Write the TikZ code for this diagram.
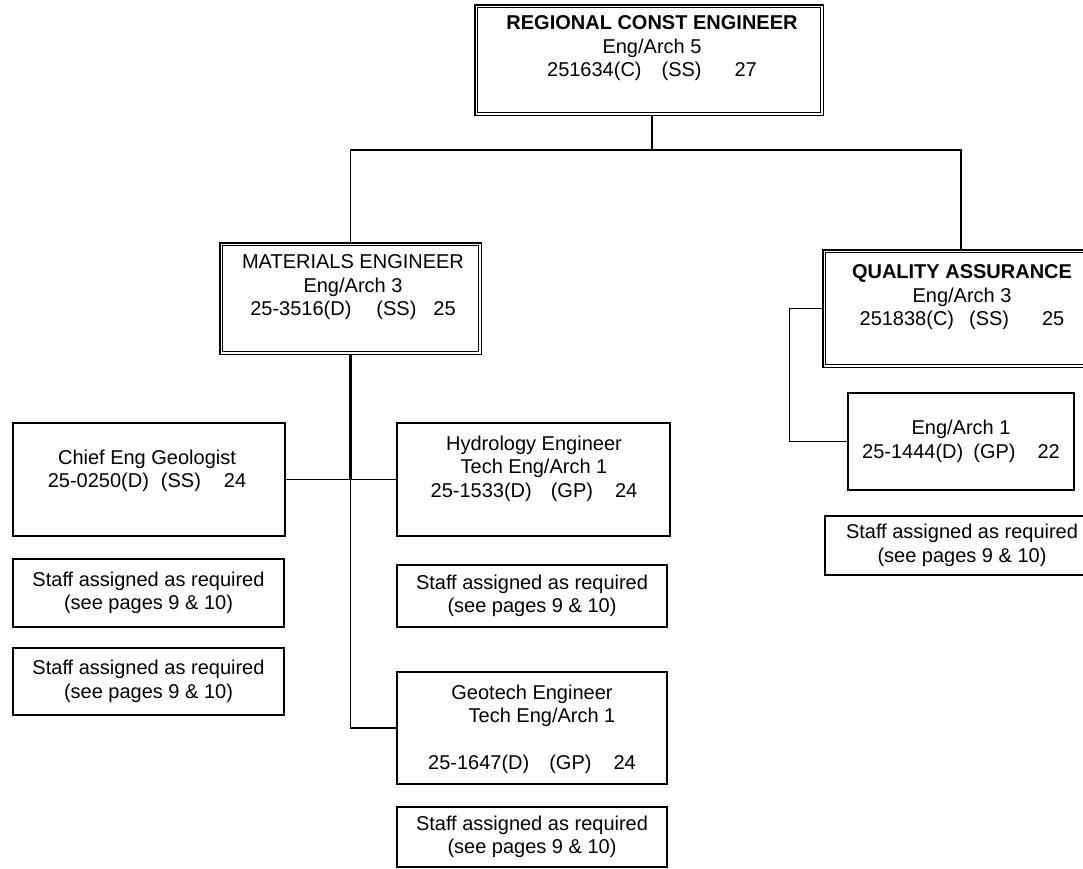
\documentclass[tikz,border=0pt]{standalone}
\usepackage{fontspec}
\setmainfont{Liberation Sans}

\begin{document}
\begin{tikzpicture}[x=1pt,y=-1pt,
    post/.style={rectangle, draw, line width=1.5pt, inner sep=0pt},
    head/.style={post, double, double distance=1.5pt, line width=1.1pt, outer sep=1.85pt},
    staff/.style={post, align=center, font=\fontsize{20}{23.5}\selectfont},
    txt/.style={align=center, inner sep=0pt, anchor=north, font=\fontsize{20}{23.5}\selectfont},
    link/.style={line width=1.4pt}]
      \useasboundingbox (0,0) rectangle (1083,868);

      \node at(649,60) [head, minimum width=345.5pt, minimum height=107.5pt] (rce) {};
      \node at(652,15.5) [txt] (rce-t) {{\bfseries REGIONAL CONST ENGINEER}\\Eng/Arch 5\\251634(C)\hspace{1em}(SS)\hspace{1.65em}27};

      \node at(350.5,298.5) [head, minimum width=258.5pt, minimum height=108.5pt] (mat) {};
      \node at(353,254.5) [txt] (mat-t) {MATERIALS ENGINEER\\Eng/Arch 3\\25-3516(D)\hspace{1.25em}(SS)\hspace{0.85em}25};

      \node at(961,308.5) [head, minimum width=273.5pt, minimum height=114.5pt] (qa) {};
      \node at(962,264.5) [txt] (qa-t) {{\bfseries QUALITY ASSURANCE}\\Eng/Arch 3\\251838(C)\hspace{0.75em}(SS)\hspace{1.65em}25};

      \node at(961,441.5) [staff, minimum width=226pt, minimum height=97pt] (ea1) {Eng/Arch 1\\25-1444(D)\hspace{0.5em}(GP)\hspace{1.1em}22};
      \node at(962,545.5) [staff, minimum width=274pt, minimum height=59pt] (qastaff) {Staff assigned as required\\(see pages 9 \& 10)};

      \node at(149,479.5) [post, minimum width=272pt, minimum height=113pt] (chief) {};
      \node at(147,449.5) [txt] (chief-t) {Chief Eng Geologist\\25-0250(D)\hspace{0.6em}(SS)\hspace{1.15em}24};
      \node at(148.5,593) [staff, minimum width=271pt, minimum height=68pt] (staffa) {Staff assigned as required\\(see pages 9 \& 10)};
      \node at(148.5,681.5) [staff, minimum width=271pt, minimum height=67pt] (staffb) {Staff assigned as required\\(see pages 9 \& 10)};

      \node at(533.5,479.5) [post, minimum width=273pt, minimum height=113pt] (hyd) {};
      \node at(534,435.5) [txt] (hyd-t) {Hydrology Engineer\\Tech Eng/Arch 1\\25-1533(D)\hspace{0.95em}(GP)\hspace{1.1em}24};
      \node at(532,596) [staff, minimum width=270pt, minimum height=62pt] (staffc) {Staff assigned as required\\(see pages 9 \& 10)};

      \node at(532,728) [post, minimum width=270pt, minimum height=112pt] (geo) {};
      \node at(532,684.5) [txt] (geo-t) {Geotech Engineer\\\hspace*{1em}Tech Eng/Arch 1\\\mbox{}\\25-1647(D)\hspace{1em}(GP)\hspace{1.1em}24};
      \node at(532,837) [staff, minimum width=270pt, minimum height=60pt] (staffd) {Staff assigned as required\\(see pages 9 \& 10)};

      \coordinate (bar) at (652,150);
      \draw[link] (rce.south -| bar) -- (bar);
      \draw[link] (mat.north) |- (bar) -| (qa.north);
      \draw[link, line width=2.2pt] (mat.south) -- (mat.south |- chief.east) coordinate (jn);
      \draw[link] (chief.east) -- (hyd.west);
      \draw[link] (jn) |- (geo.west);
      \draw[link] (qa.west) -- ++(-33,0) |- (ea1.west);
\end{tikzpicture}
\end{document}
